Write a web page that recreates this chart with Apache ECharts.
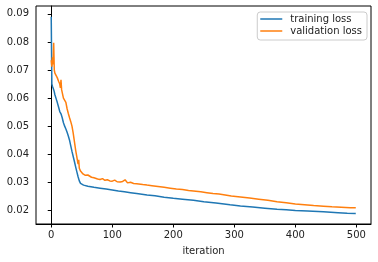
<!DOCTYPE html>
<html>
<head>
<meta charset="utf-8">
<script src="https://cdn.jsdelivr.net/npm/echarts@6/dist/echarts.min.js"></script>
<style>html,body{margin:0;padding:0;background:#fff;}#c{width:378px;height:262px;}</style>
</head>
<body>
<div id="c"></div>
<script>
// Data
var trainIter = [0,1,2,3,4,5,6,8,10,12,14,16,18,20,22,24,26,28,30,32,34,36,38,40,42,44,46,48,50,53,56,60,65,70,80,90,100,110,120,130,140,157,170,185,200,215,233,250,270,293,310,330,350,370,385,400,420,446,470,485,499];
var trainLoss = [0.0890,0.0650,0.0642,0.0636,0.0630,0.0622,0.0612,0.0598,0.0584,0.0568,0.0552,0.0544,0.0530,0.0512,0.0500,0.0490,0.0478,0.0465,0.0450,0.0430,0.0410,0.0392,0.0374,0.0355,0.0337,0.0320,0.0305,0.0296,0.0292,0.0290,0.0288,0.0286,0.0284,0.0282,0.0279,0.0276,0.0273,0.0269,0.0266,0.0263,0.0260,0.0255,0.0252,0.0247,0.0243,0.0240,0.0236,0.0231,0.0226,0.0220,0.0216,0.0212,0.0208,0.0204,0.0202,0.0200,0.0198,0.0195,0.0192,0.0190,0.0189];

var valIter = [0,1,2,3,4,5,6,8,10,12,14,15,16,17,18,20,22,24,26,28,30,32,34,36,38,40,42,44,45,46,48,50,52,54,56,58,60,63,66,70,73,76,80,84,88,92,96,100,104,108,113,117,121,125,130,135,140,150,157,165,175,185,195,205,215,225,233,245,255,265,275,285,295,310,325,340,355,370,385,400,415,430,446,460,475,490,499];
var valLoss = [0.0735,0.0712,0.0745,0.0720,0.0797,0.0700,0.0689,0.0682,0.0672,0.0660,0.0650,0.0636,0.0665,0.0630,0.0625,0.0600,0.0594,0.0585,0.0562,0.0545,0.0530,0.0516,0.0500,0.0475,0.0445,0.0415,0.0390,0.0365,0.0380,0.0350,0.0340,0.0333,0.0330,0.0336,0.0325,0.0322,0.0326,0.0320,0.0318,0.0316,0.0319,0.0312,0.0310,0.0313,0.0307,0.0309,0.0305,0.0304,0.0308,0.0302,0.0301,0.0303,0.0309,0.0298,0.0300,0.0296,0.0295,0.0292,0.0290,0.0288,0.0285,0.0282,0.0279,0.0276,0.0274,0.0271,0.0269,0.0266,0.0263,0.0260,0.0258,0.0255,0.0251,0.0248,0.0244,0.0240,0.0236,0.0231,0.0227,0.0223,0.0220,0.0217,0.0215,0.0213,0.0211,0.0209,0.0209];

var xTicks = [0,100,200,300,400,500];
var yTicks = [0.02,0.03,0.04,0.05,0.06,0.07,0.08,0.09];

function pairs(xs, ys){ var o=[]; for(var i=0;i<xs.length;i++) o.push([xs[i], ys[i]]); return o; }

var chart = echarts.init(document.getElementById('c'), null, {renderer:'canvas'});
var font = 'DejaVu Sans';
chart.setOption({
  animation: false,
  backgroundColor: '#fff',
  grid: {left:36, right:7, top:6, bottom:38, show:true, borderColor:'#000', borderWidth:1, containLabel:false, outerBoundsMode:'none'},
  legend: {
    right: 11, top: 12, orient: 'vertical',
    data: ['training loss','validation loss'],
    icon: 'rect', itemWidth: 22, itemHeight: 1.5, itemGap: 2,
    padding: [2,5,4,3],
    borderColor: '#ccc', borderWidth: 1, borderRadius: 3,
    backgroundColor: 'rgba(255,255,255,0.8)',
    textStyle: {fontFamily: font, fontSize: 10, color:'#222', padding:[0,0,0,3]}
  },
  xAxis: {
    type:'value', min:-24.95, max:523.95,
    name:'iteration', nameLocation:'middle', nameGap:22,
    nameTextStyle:{fontFamily:font, fontSize:10, color:'#222'},
    axisLine:{show:true, lineStyle:{color:'#000', width:1}},
    axisTick:{show:true, length:3.5, lineStyle:{color:'#000'}, customValues:xTicks},
    axisLabel:{fontFamily:font, fontSize:10, color:'#222', margin:6, customValues:xTicks},
    splitLine:{show:false}
  },
  yAxis: {
    type:'value', min:0.01515, max:0.0928,
    axisLine:{show:true, lineStyle:{color:'#000', width:1}},
    axisTick:{show:true, length:3.5, lineStyle:{color:'#000'}, customValues:yTicks},
    axisLabel:{fontFamily:font, fontSize:10, color:'#222', margin:7, customValues:yTicks, formatter:function(v){return v.toFixed(2);}},
    splitLine:{show:false}
  },
  series: [
    {name:'training loss', type:'line', data:pairs(trainIter,trainLoss), symbol:'none', lineStyle:{color:'#1f77b4', width:1.5}, itemStyle:{color:'#1f77b4'}},
    {name:'validation loss', type:'line', data:pairs(valIter,valLoss), symbol:'none', lineStyle:{color:'#ff7f0e', width:1.5}, itemStyle:{color:'#ff7f0e'}}
  ]
});
</script>
</body>
</html>
